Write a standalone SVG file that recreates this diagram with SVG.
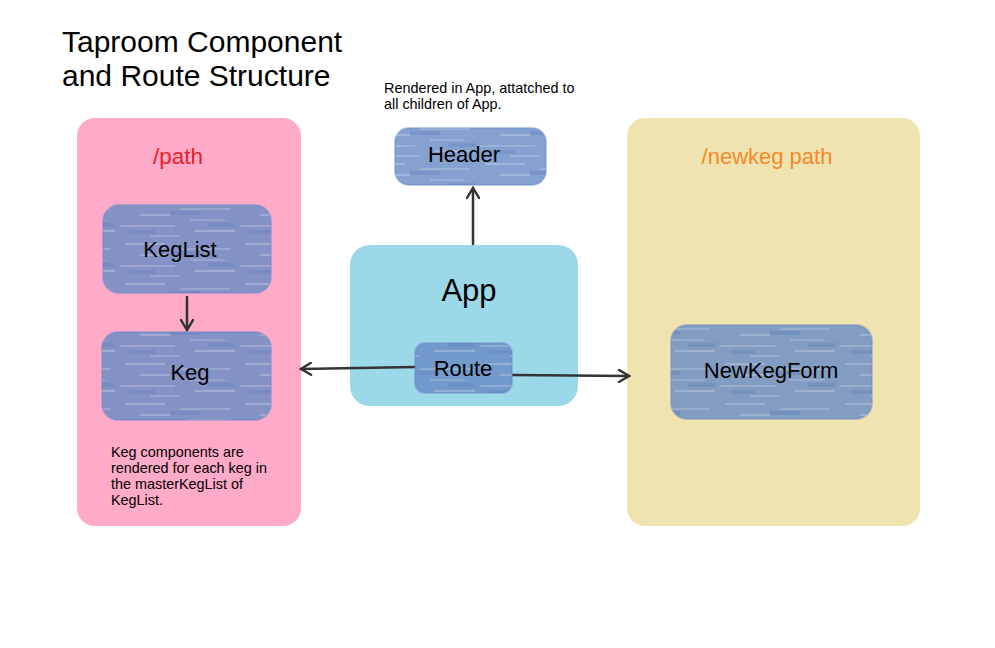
<svg xmlns="http://www.w3.org/2000/svg" width="995" height="648" viewBox="0 0 995 648">
<style>
text{font-family:"Liberation Sans",Arial,sans-serif;fill:#000}
.lbl{font-size:22px;text-anchor:middle}
.note{font-size:14.4px}
.node{fill:#6a8cc6;fill-opacity:0.82;stroke:#6a8cc6;stroke-opacity:0.45;stroke-width:2}
.streak{fill:url(#streaks)}
.conn{stroke:#333;stroke-width:2.5;fill:none;stroke-linecap:round}
</style>
<defs>
<pattern id="streaks" patternUnits="userSpaceOnUse" width="120" height="40">
<rect x="5" y="3" width="40" height="2" fill="#ffffff" opacity="0.22"/>
<rect x="60" y="8" width="50" height="2" fill="#ffffff" opacity="0.18"/>
<rect x="20" y="14" width="30" height="2" fill="#ffffff" opacity="0.22"/>
<rect x="70" y="19" width="35" height="2" fill="#ffffff" opacity="0.16"/>
<rect x="0" y="25" width="55" height="2" fill="#ffffff" opacity="0.18"/>
<rect x="75" y="30" width="40" height="2" fill="#ffffff" opacity="0.22"/>
<rect x="30" y="35" width="30" height="2" fill="#ffffff" opacity="0.18"/>
<rect x="50" y="11" width="30" height="4" fill="#5a7dba" opacity="0.35"/>
<rect x="88" y="23" width="28" height="4" fill="#5a7dba" opacity="0.35"/>
<rect x="10" y="30" width="25" height="4" fill="#5a7dba" opacity="0.3"/>
</pattern>
<marker id="ah" viewBox="0 0 14 14" refX="12" refY="7" markerWidth="14" markerHeight="14" markerUnits="userSpaceOnUse" orient="auto">
<path d="M2,1 L12,7 L2,13" fill="none" stroke="#333" stroke-width="2.4" stroke-linecap="round"/>
</marker>
</defs>
<rect width="995" height="648" fill="#fff"/>

<g id="title">
<text x="62" y="52" font-size="30">Taproom Component</text>
<text x="62" y="86" font-size="30">and Route Structure</text>
</g>

<g id="path-panel">
<rect x="77" y="118" width="224" height="408" rx="18" fill="#ffaac8"/>
<text x="178" y="164" font-size="22.5" text-anchor="middle" style="fill:#e8202a">/path</text>
</g>

<g id="newkeg-panel">
<rect x="627" y="118" width="293" height="408" rx="18" fill="#efe3b0"/>
<text x="767" y="164" font-size="22" text-anchor="middle" style="fill:#f58a2a">/newkeg path</text>
</g>

<g id="app">
<rect x="350" y="245" width="228" height="161" rx="20" fill="#9bd9e9"/>
<text x="469" y="301" font-size="31" text-anchor="middle">App</text>
</g>

<g id="connectors">
<line class="conn" x1="473" y1="244" x2="473" y2="188" marker-end="url(#ah)"/>
<line class="conn" x1="187" y1="297" x2="187" y2="330" marker-end="url(#ah)"/>
<line class="conn" x1="415" y1="367" x2="301" y2="369" marker-end="url(#ah)"/>
<line class="conn" x1="512" y1="375" x2="629" y2="376" marker-end="url(#ah)"/>
</g>

<g id="header">
<rect class="node" x="395" y="128" width="151" height="57" rx="14"/>
<rect class="streak" x="395" y="128" width="151" height="57" rx="14"/>
<text class="lbl" x="464" y="162">Header</text>
</g>

<g id="keglist">
<rect class="node" x="103" y="205" width="168" height="88" rx="16"/>
<rect class="streak" x="103" y="205" width="168" height="88" rx="16"/>
<text class="lbl" x="180" y="257">KegList</text>
</g>

<g id="keg">
<rect class="node" x="102" y="332" width="169" height="88" rx="16"/>
<rect class="streak" x="102" y="332" width="169" height="88" rx="16"/>
<text class="lbl" x="190" y="380">Keg</text>
</g>

<g id="route">
<rect class="node" x="415" y="343" width="97" height="50" rx="10"/>
<rect class="streak" x="415" y="343" width="97" height="50" rx="10"/>
<text class="lbl" x="463" y="376">Route</text>
</g>

<g id="newkegform">
<rect class="node" x="671" y="325" width="201" height="94" rx="16"/>
<rect class="streak" x="671" y="325" width="201" height="94" rx="16"/>
<text class="lbl" x="771" y="378">NewKegForm</text>
</g>

<g id="header-note">
<text class="note" x="384" y="93">Rendered in App, attatched to</text>
<text class="note" x="384" y="109">all children of App.</text>
</g>

<g id="keg-note">
<text class="note" x="111" y="457">Keg components are</text>
<text class="note" x="111" y="473">rendered for each keg in</text>
<text class="note" x="111" y="489">the masterKegList of</text>
<text class="note" x="111" y="505">KegList.</text>
</g>
</svg>
